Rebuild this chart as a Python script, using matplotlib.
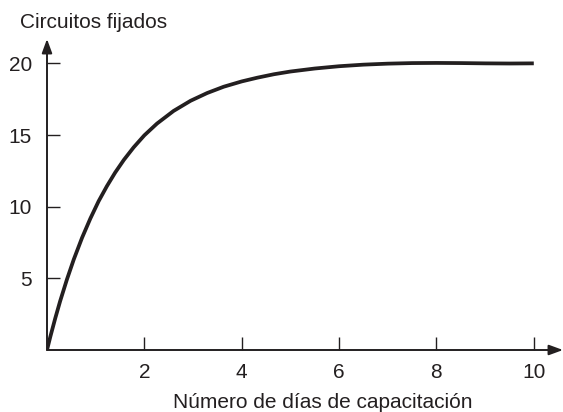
import matplotlib.pyplot as plt

plt.rcParams['font.family'] = ['Liberation Sans', 'DejaVu Sans']

# valores
dias = [0, 0.07, 0.17, 0.27, 0.41, 0.55, 0.72, 0.89, 1.06, 1.23, 1.4, 1.58, 1.78,
        2.0, 2.26, 2.6, 2.95, 3.29, 3.63, 4.0, 4.32, 4.66, 5.0, 5.5, 6.0, 6.5,
        7.0, 7.5, 8.0, 8.5, 9.0, 9.5, 10.0]
circuitos = [0, 0.95, 2.22, 3.41, 4.93, 6.32, 7.83, 9.17, 10.38, 11.43, 12.38, 13.27, 14.14,
             14.98, 15.8, 16.68, 17.39, 17.93, 18.37, 18.74, 19.0, 19.24, 19.43, 19.64, 19.8,
             19.91, 19.98, 20.02, 20.03, 20.02, 20.0, 19.99, 20.0]

xticks = [2, 4, 6, 8, 10]
yticks = [5, 10, 15, 20]

col = '#231f20'

fig = plt.figure(figsize=(5.63, 4.12), dpi=100)
ax = fig.add_axes([47/563, 1 - 350/412, 516/563, 311/412])

ax.plot(dias, circuitos, color=col, lw=2.7, solid_capstyle='butt',
        solid_joinstyle='round')

ax.set_xlim(0, 10.6)
ax.set_ylim(0, 21.7)
for s in ax.spines.values():
    s.set_visible(False)

# ejes con flecha
flecha = dict(arrowstyle='-|>,head_length=0.6,head_width=0.22', color=col, lw=1.4,
              mutation_scale=14, shrinkA=0, shrinkB=0)
ax.annotate('', xy=(10.6, 0), xytext=(0, 0), arrowprops=flecha, annotation_clip=False)
ax.annotate('', xy=(0, 21.7), xytext=(0, 0), arrowprops=flecha, annotation_clip=False)

ax.set_xticks(xticks)
ax.set_yticks(yticks)
ax.tick_params(direction='in', length=9.5, width=1.0, color=col, labelcolor=col,
               labelsize=15)
ax.tick_params(axis='x', pad=9.5)
ax.tick_params(axis='y', pad=10.8)

fig.text(20/563, 1 - 28/412, 'Circuitos fijados', fontsize=15, color=col,
         ha='left', va='baseline')
fig.text(323/563, 1 - 408/412, 'Número de días de capacitación', fontsize=15,
         color=col, ha='center', va='baseline')

fig.savefig('out.png', dpi=100)
